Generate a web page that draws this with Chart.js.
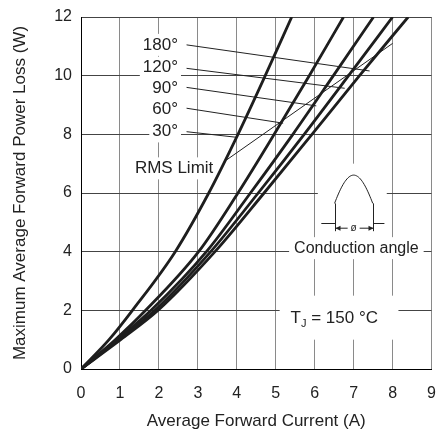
<!DOCTYPE html>
<html>
<head>
<meta charset="utf-8">
<script src="https://cdn.jsdelivr.net/npm/chart.js@4.4.1/dist/chart.umd.min.js"></script>
<style>
  html, body { margin: 0; padding: 0; background: #fff; }
  canvas { display: block; }
</style>
</head>
<body>
<canvas id="myChart" width="439" height="433"></canvas>
<script>
// power levels (W) at which the curves were read
const powerLevels = [0, 1, 2, 4, 6, 8, 10, 12];
// average forward current (A) at those power levels, one list per conduction angle
const current30 = [0, 0.72, 1.32, 2.42, 3.28, 4.03, 4.73, 5.41];
const current60 = [0, 0.88, 1.66, 3.02, 4.03, 4.96, 5.86, 6.74];
const current90 = [0, 0.93, 1.80, 3.22, 4.35, 5.44, 6.48, 7.51];
const current120 = [0, 0.97, 1.90, 3.33, 4.55, 5.73, 6.87, 8.00];
const current180 = [0, 1.02, 1.98, 3.44, 4.70, 5.93, 7.15, 8.40];

// RMS limit line (current, power)
const rmsCurrent = [3.74, 8.0];
const rmsPower = [7.13, 11.1];

// label leaders, from label to curve
const angleLabels = ['180°', '120°', '90°', '60°', '30°'];
const leaderStartX = [2.71, 2.71, 2.71, 2.71, 2.71];
const leaderStartY = [11.05, 10.25, 9.60, 8.89, 8.09];
const leaderEndX = [7.41, 6.77, 6.04, 5.19, 3.99];
const leaderEndY = [10.16, 9.57, 8.97, 8.38, 7.90];

const xTicks = [0, 1, 2, 3, 4, 5, 6, 7, 8, 9];
const yTicks = [0, 2, 4, 6, 8, 10, 12];

const FONT = '"Liberation Sans", Arial, Helvetica, sans-serif';
const INK = '#1e1e1e';

function toPoints(xs, ys) {
    return xs.map((x, i) => ({ x: x, y: ys[i] }));
}

const curves = [current30, current60, current90, current120, current180].map(c => ({
    data: toPoints(c, powerLevels),
    showLine: true,
    borderColor: INK,
    borderWidth: 2.8,
    pointRadius: 0,
    cubicInterpolationMode: 'monotone'
}));

const thin = (xs, ys) => ({
    data: toPoints(xs, ys),
    showLine: true,
    borderColor: '#222',
    borderWidth: 1,
    pointRadius: 0
});

const leaders = angleLabels.map((_, i) =>
    thin([leaderStartX[i], leaderEndX[i]], [leaderStartY[i], leaderEndY[i]]));

// text notes placed in data units
const notes = [
    { text: angleLabels[0], x: 2.49, y: 11.05, align: 'right', size: 17 },
    { text: angleLabels[1], x: 2.49, y: 10.27, align: 'right', size: 17 },
    { text: angleLabels[2], x: 2.49, y: 9.56, align: 'right', size: 17 },
    { text: angleLabels[3], x: 2.49, y: 8.85, align: 'right', size: 17 },
    { text: angleLabels[4], x: 2.49, y: 8.10, align: 'right', size: 17 },
    { text: 'RMS Limit', x: 2.39, y: 6.84, align: 'center', size: 17 },
    { text: 'Conduction angle', x: 7.07, y: 4.12, align: 'center', size: 16, padX: 5 }
];

function noteBox(ctx, chart, n) {
    ctx.font = n.size + 'px ' + FONT;
    const w = ctx.measureText(n.text).width;
    const px = chart.scales.x.getPixelForValue(n.x);
    const py = chart.scales.y.getPixelForValue(n.y);
    let left = n.align === 'right' ? px - w : (n.align === 'center' ? px - w / 2 : px);
    const padX = n.padX || 3;
    return { left: left - padX, right: left + w + padX, top: py - 11, bottom: py + 11, px, py };
}

const annotations = {
    id: 'annotations',
    beforeDatasetsDraw(chart) {
        const ctx = chart.ctx;
        const xs = chart.scales.x, ys = chart.scales.y;
        ctx.save();
        ctx.fillStyle = '#fff';
        notes.forEach(n => {
            const b = noteBox(ctx, chart, n);
            ctx.fillRect(b.left, b.top, b.right - b.left, b.bottom - b.top);
        });
        // white area behind the waveform sketch
        const l = xs.getPixelForValue(6.08), r = xs.getPixelForValue(7.85);
        const t = ys.getPixelForValue(7.0), b = ys.getPixelForValue(4.45);
        ctx.fillRect(l, t, r - l, b - t);
        // white area behind T_J note
        const tl = xs.getPixelForValue(5.1), tr = xs.getPixelForValue(8.15);
        const tt = ys.getPixelForValue(2.5), tb = ys.getPixelForValue(1.0);
        ctx.fillRect(tl, tt, tr - tl, tb - tt);
        ctx.restore();
    },
    afterDatasetsDraw(chart) {
        const ctx = chart.ctx;
        const xs = chart.scales.x, ys = chart.scales.y;
        ctx.save();
        ctx.fillStyle = '#222';
        ctx.textBaseline = 'middle';
        notes.forEach(n => {
            const b = noteBox(ctx, chart, n);
            ctx.font = n.size + 'px ' + FONT;
            ctx.textAlign = n.align;
            ctx.fillText(n.text, b.px, b.py);
        });

        // T_J = 150 °C
        ctx.textAlign = 'left';
        const tx = xs.getPixelForValue(5.38), ty = ys.getPixelForValue(1.73);
        ctx.font = '17px ' + FONT;
        ctx.fillText('T', tx, ty);
        let w = ctx.measureText('T').width;
        ctx.font = '11px ' + FONT;
        ctx.fillText('J', tx + w, ty + 6);
        w += ctx.measureText('J').width;
        ctx.font = '17px ' + FONT;
        ctx.fillText(' = 150 °C', tx + w, ty);

        // half-sine with conduction angle
        const c = 7.0, half = 0.667, cut = 0.49, base = 4.99, amp = 1.62;
        ctx.strokeStyle = '#222';
        ctx.lineWidth = 1;
        ctx.beginPath();
        for (let k = 0; k <= 40; k++) {
            const x = c - cut + (2 * cut) * k / 40;
            const h = amp * Math.sin(Math.PI * (x - (c - half)) / (2 * half));
            const X = xs.getPixelForValue(x), Y = ys.getPixelForValue(base + h);
            if (k === 0) ctx.moveTo(X, Y); else ctx.lineTo(X, Y);
        }
        ctx.stroke();
        const x0 = Math.round(xs.getPixelForValue(c - cut)) + 0.5;
        const x1 = Math.round(xs.getPixelForValue(c + cut)) + 0.5;
        const hCut = amp * Math.sin(Math.PI * (half - cut) / (2 * half));
        const yTop = ys.getPixelForValue(base + hCut);
        const yBase = Math.round(ys.getPixelForValue(base)) + 0.5;
        const yArr = ys.getPixelForValue(4.80);
        ctx.beginPath();
        ctx.moveTo(xs.getPixelForValue(6.17), yBase); ctx.lineTo(x0, yBase);
        ctx.moveTo(x0, yTop); ctx.lineTo(x0, yArr + 3);
        ctx.moveTo(x1, yTop); ctx.lineTo(x1, yArr + 3);
        ctx.moveTo(x1, yBase); ctx.lineTo(xs.getPixelForValue(7.79), yBase);
        const mid = xs.getPixelForValue(c);
        ctx.moveTo(x0, yArr); ctx.lineTo(mid - 6, yArr);
        ctx.moveTo(mid + 6, yArr); ctx.lineTo(x1, yArr);
        ctx.stroke();
        ctx.beginPath();
        ctx.moveTo(x0, yArr); ctx.lineTo(x0 + 5, yArr - 2.5); ctx.lineTo(x0 + 5, yArr + 2.5); ctx.closePath();
        ctx.moveTo(x1, yArr); ctx.lineTo(x1 - 5, yArr - 2.5); ctx.lineTo(x1 - 5, yArr + 2.5); ctx.closePath();
        ctx.fill();
        ctx.font = '10px ' + FONT;
        ctx.textAlign = 'center';
        ctx.fillText('ø', mid, yArr);
        ctx.restore();
    }
};

const ctx = document.getElementById('myChart').getContext('2d');
const myChart = new Chart(ctx, {
    type: 'scatter',
    data: {
        datasets: [...curves, thin(rmsCurrent, rmsPower), ...leaders]
    },
    options: {
        responsive: false,
        animation: false,
        events: [],
        layout: { padding: { top: 17, right: 7, left: 0, bottom: 0 } },
        scales: {
            x: {
                type: 'linear',
                min: 0,
                max: 9,
                afterFit: s => { s.height = 64; },
                afterBuildTicks: s => { s.ticks = xTicks.map(v => ({ value: v })); },
                grid: { color: '#8a8a8a', lineWidth: 1, drawTicks: true, tickLength: 12, tickColor: 'rgba(0,0,0,0)' },
                border: { color: '#000', width: 1 },
                ticks: { color: '#222', padding: 3, font: { family: FONT, size: 16 } },
                title: {
                    display: true,
                    text: 'Average Forward Current (A)',
                    color: '#222',
                    font: { family: FONT, size: 17 },
                    padding: { top: 0, bottom: 1 }
                }
            },
            y: {
                type: 'linear',
                min: 0,
                max: 12,
                afterFit: s => { s.width = 81; },
                afterBuildTicks: s => { s.ticks = yTicks.map(v => ({ value: v })); },
                grid: { color: '#444', lineWidth: 1, drawTicks: true, tickLength: 6, tickColor: 'rgba(0,0,0,0)' },
                border: { color: '#000', width: 1 },
                ticks: { color: '#222', padding: 3, font: { family: FONT, size: 16 } },
                title: {
                    display: true,
                    text: 'Maximum Average Forward Power Loss (W)',
                    color: '#222',
                    font: { family: FONT, size: 17 },
                    padding: { top: 10, bottom: 0 }
                }
            }
        },
        plugins: {
            legend: { display: false },
            tooltip: { enabled: false }
        }
    },
    plugins: [annotations]
});
</script>
</body>
</html>
